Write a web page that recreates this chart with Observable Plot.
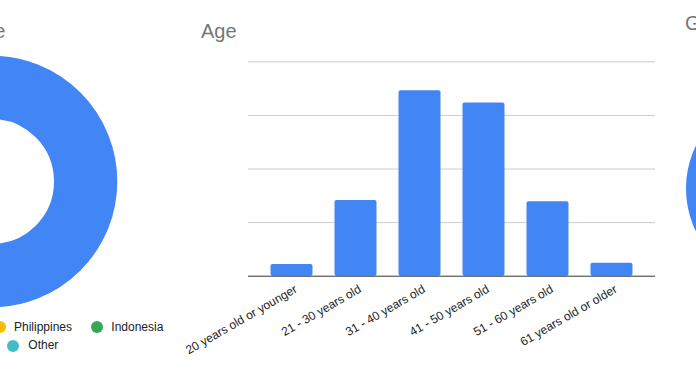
<!DOCTYPE html>
<html>
<head>
<meta charset="utf-8">
<script src="https://cdn.jsdelivr.net/npm/d3@7"></script>
<script src="https://cdn.jsdelivr.net/npm/@observablehq/plot@0.6"></script>
<style>
  html, body { margin: 0; padding: 0; background: #fff; }
  #root { position: relative; width: 696px; height: 371px; overflow: hidden; background: #fff;
          font-family: "Liberation Sans", Arial, sans-serif; }
  .abs { position: absolute; }
  .title { font-size: 20px; line-height: 20px; color: #757575; white-space: nowrap; }
  .leg { font-size: 12px; line-height: 12px; color: #222; white-space: nowrap; }
  .sw { width: 12px; height: 12px; border-radius: 50%; }
</style>
</head>
<body>
<div id="root"></div>
<script>
// ---- data ----
const ageLabels = ["20 years old or younger", "21 - 30 years old", "31 - 40 years old",
                   "41 - 50 years old", "51 - 60 years old", "61 years old or older"];
const ageValues = [2.2, 14.1, 34.6, 32.3, 13.9, 2.4];
const ageGridTicks = [10, 20, 30, 40];

const leftTitle = "Country of residence";
const ageTitle = "Age";
const rightTitle = "Gender";

const residenceLegend = ["Philippines", "Indonesia", "Other"];
const residenceColors = ["#fbbc04", "#34a853", "#46bdc6"];
const residenceShares = [{name: "Main", share: 1}];
const genderShares = [{name: "Main", share: 1}];

const blue = "#4285f4";
const root = document.getElementById("root");

// ---- Age bar chart ----
const ageData = ageLabels.map((label, i) => ({label, value: ageValues[i]}));
const bar = Plot.plot({
  width: 696, height: 371,
  marginLeft: 248, marginRight: 41, marginTop: 61.3, marginBottom: 95.3,
  style: {fontFamily: "'Liberation Sans', Arial, sans-serif", fontSize: "12px", color: "#222", background: "transparent"},
  x: {domain: ageLabels, paddingInner: 0.344, paddingOuter: 0.352, round: false, label: null},
  y: {domain: [0, 40], axis: null},
  marks: [
    Plot.gridY(ageGridTicks, {stroke: "#cccccc", strokeOpacity: 1}),
    Plot.barY(ageData, {x: "label", y: "value", fill: blue, rx: 2}),
    Plot.ruleY([0], {stroke: "#333333", strokeWidth: 1}),
    Plot.axisX({tickSize: 0, tickRotate: -30, tickPadding: 9, dx: 4, dy: 3, label: null, fill: "#222"})
  ]
});
bar.classList.add("abs");
bar.style.left = "0px"; bar.style.top = "0px";
root.appendChild(bar);

// ---- donuts ----
function donut(data, size, rOuter, rInner, cx, cy) {
  const svg = Plot.plot({
    width: size, height: size, margin: 0,
    x: {domain: [-1, 1], axis: null}, y: {domain: [-1, 1], axis: null},
    style: {background: "transparent", overflow: "visible"},
    marks: [
      Plot.dot(data, {x: () => 0, y: () => 0, r: (rOuter + rInner) / 2,
                      stroke: blue, strokeWidth: rOuter - rInner, fill: "none"})
    ]
  });
  svg.classList.add("abs");
  svg.style.left = (cx - size / 2) + "px";
  svg.style.top = (cy - size / 2) + "px";
  root.appendChild(svg);
}
donut(residenceShares, 260, 125.8, 62.5, -9.1, 180.8);
donut(genderShares, 210, 97.5, 48, 782.5, 188);

// ---- titles ----
function addText(txt, cls, css) {
  const d = document.createElement("div");
  d.className = "abs " + cls;
  d.textContent = txt;
  Object.assign(d.style, css);
  root.appendChild(d);
  return d;
}
addText(leftTitle, "title", {right: (696 - 5.5) + "px", top: "20.8px", textAlign: "right"});
addText(ageTitle, "title", {left: "201px", top: "20.8px"});
addText(rightTitle, "title", {left: "685px", top: "13.4px"});

// ---- legend (left donut) ----
const legPos = [
  {dot: [0, 327], text: [14, 320.5]},
  {dot: [96.7, 327], text: [111.3, 320.5]},
  {dot: [13.3, 345.5], text: [28.3, 338.8]}
];
residenceLegend.forEach((name, i) => {
  const p = legPos[i];
  const s = document.createElement("div");
  s.className = "abs sw";
  s.style.background = residenceColors[i];
  s.style.left = (p.dot[0] - 6) + "px";
  s.style.top = (p.dot[1] - 6) + "px";
  root.appendChild(s);
  addText(name, "leg", {left: p.text[0] + "px", top: p.text[1] + "px"});
});
</script>
</body>
</html>
